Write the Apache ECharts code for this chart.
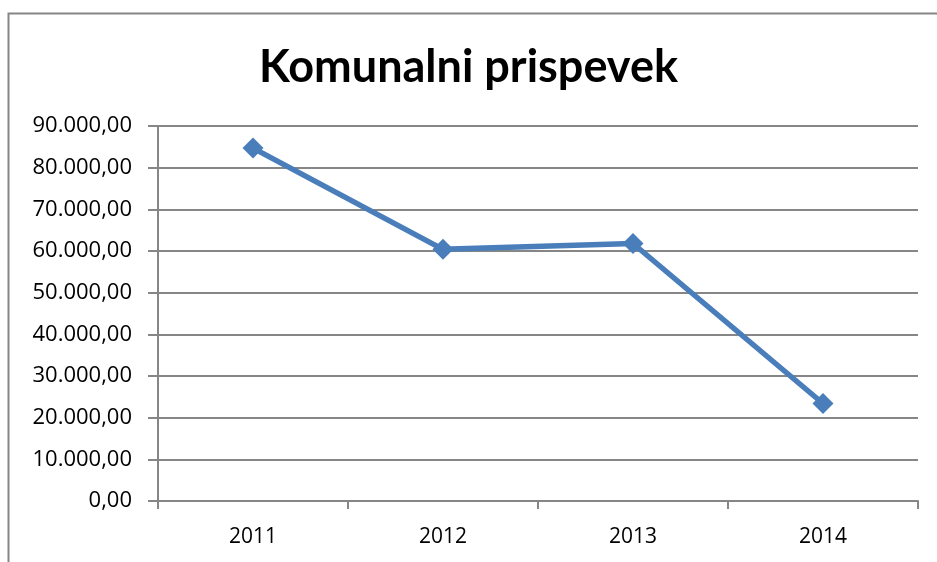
<!DOCTYPE html>
<html>
<head>
<meta charset="utf-8">
<script src="https://cdn.jsdelivr.net/npm/echarts@6/dist/echarts.min.js"></script>
<style>
  html, body { margin: 0; padding: 0; background: #fff; }
  #main { width: 937px; height: 562px; }
</style>
</head>
<body>
<div id="main"></div>
<script>
// podatki
var years = ['2011', '2012', '2013', '2014'];
var prispevek = [84700, 60400, 61800, 23400];

// oblika številk: 90.000,00
function fmt(v) {
    var s = Math.round(v).toString().replace(/\B(?=(\d{3})+(?!\d))/g, '.');
    return s + ',00';
}

var myChart = echarts.init(document.getElementById('main'));

var option = {
    animation: false,
    // okvir grafikona
    graphic: [{
        type: 'rect',
        shape: { x: 8.5, y: 13.5, width: 940, height: 560 },
        style: { fill: 'none', stroke: '#868686', lineWidth: 2 },
        silent: true
    }],
    title: {
        text: 'Komunalni prispevek',
        left: 'center',
        top: 40,
        textStyle: {
            fontFamily: 'Lato',
            fontWeight: 'bold',
            fontSize: 45,
            color: '#000'
        }
    },
    grid: {
        left: 158,
        right: 19,
        top: 126,
        bottom: 61
    },
    xAxis: {
        type: 'category',
        data: years,
        boundaryGap: true,
        axisLine: { lineStyle: { color: '#868686', width: 2 } },
        axisTick: { show: true, length: 8, lineStyle: { color: '#868686', width: 2 } },
        axisLabel: {
            margin: 26,
            fontFamily: 'Open Sans',
            fontSize: 21,
            color: '#000'
        }
    },
    yAxis: {
        type: 'value',
        min: 0,
        max: 90000,
        interval: 10000,
        axisLine: { show: true, lineStyle: { color: '#868686', width: 2 } },
        axisTick: { show: true, length: 10, lineStyle: { color: '#868686', width: 2 } },
        splitLine: { lineStyle: { color: '#868686', width: 2 } },
        axisLabel: {
            margin: 26,
            fontFamily: 'Open Sans',
            fontSize: 22,
            color: '#000',
            formatter: fmt
        }
    },
    series: [{
        name: 'Komunalni prispevek',
        type: 'line',
        data: prispevek,
        symbol: 'diamond',
        symbolSize: 21,
        itemStyle: { color: '#4a7ebb' },
        lineStyle: { color: '#4a7ebb', width: 5.5 }
    }]
};

myChart.setOption(option);
</script>
</body>
</html>
